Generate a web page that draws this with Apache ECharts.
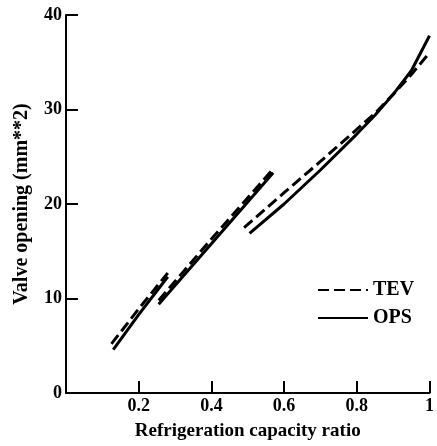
<!DOCTYPE html>
<html>
<head>
<meta charset="utf-8">
<script src="https://cdn.jsdelivr.net/npm/echarts@6/dist/echarts.min.js"></script>
<style>
  html, body { margin: 0; padding: 0; background: #fff; }
  #chart { width: 437px; height: 446px; }
</style>
</head>
<body>
<div id="chart"></div>
<script>
// TEV (dashed) segments, [capacity ratio, valve opening]
const tevLow = [[0.125, 5.2], [0.2, 8.9], [0.28, 12.7]];
const tevMid = [[0.255, 9.8], [0.4, 16.3], [0.565, 23.5]];
const tevHigh = [[0.49, 17.5], [0.6, 21.2], [0.7, 24.5], [0.8, 27.9], [0.85, 29.6], [0.9, 31.6], [0.95, 33.7], [1.0, 36.0]];
// OPS (solid) segments
const opsLow = [[0.13, 4.6], [0.2, 8.3], [0.28, 12.3]];
const opsMid = [[0.255, 9.4], [0.4, 15.8], [0.57, 23.3]];
const opsHigh = [[0.505, 16.9], [0.6, 20.0], [0.7, 23.6], [0.8, 27.4], [0.85, 29.4], [0.9, 31.6], [0.95, 34.1], [1.0, 37.8]];

const xTicks = [0, 0.2, 0.4, 0.6, 0.8, 1];
const yTicks = [0, 10, 20, 30, 40];

const font = 'Liberation Serif';
const ink = '#000';

function seg(name, data, dashed) {
  return {
    name: name,
    type: 'line',
    data: data,
    symbol: 'none',
    smooth: false,
    silent: true,
    lineStyle: { color: ink, width: 3, type: dashed ? [11, 5] : 'solid' },
    itemStyle: { color: ink }
  };
}

const chart = echarts.init(document.getElementById('chart'));
chart.setOption({
  animation: false,
  backgroundColor: '#fff',
  grid: { left: 66, right: 1, top: 15, bottom: 53 },
  legend: {
    orient: 'vertical',
    left: 312,
    top: 275,
    itemWidth: 50,
    itemHeight: 14,
    itemGap: 8,
    itemStyle: { opacity: 0 },
    data: ['TEV', 'OPS'],
    textStyle: { fontFamily: font, fontWeight: 'bold', fontSize: 20, color: ink }
  },
  xAxis: {
    type: 'value',
    min: xTicks[0],
    max: xTicks[xTicks.length - 1],
    interval: 0.2,
    name: 'Refrigeration capacity ratio',
    nameLocation: 'middle',
    nameGap: 29,
    nameTextStyle: { fontFamily: font, fontWeight: 'bold', fontSize: 19, color: ink },
    axisLine: { lineStyle: { color: ink, width: 2 } },
    axisTick: { inside: true, length: 12, lineStyle: { color: ink, width: 2 } },
    axisLabel: {
      fontFamily: font, fontWeight: 'bold', fontSize: 18, color: ink, margin: 4,
      formatter: v => (v === 0 ? '' : String(v))
    },
    splitLine: { show: false }
  },
  yAxis: {
    type: 'value',
    min: yTicks[0],
    max: yTicks[yTicks.length - 1],
    interval: 10,
    name: 'Valve opening (mm**2)',
    nameLocation: 'middle',
    nameGap: 34,
    nameTextStyle: { fontFamily: font, fontWeight: 'bold', fontSize: 20, color: ink },
    axisLine: { show: true, lineStyle: { color: ink, width: 2 } },
    axisTick: { show: true, inside: true, length: 12, lineStyle: { color: ink, width: 2 } },
    axisLabel: { fontFamily: font, fontWeight: 'bold', fontSize: 18, color: ink, margin: 4 },
    splitLine: { show: false }
  },
  series: [
    seg('TEV', tevLow, true),
    seg('TEV', tevMid, true),
    seg('TEV', tevHigh, true),
    seg('OPS', opsLow, false),
    seg('OPS', opsMid, false),
    seg('OPS', opsHigh, false)
  ]
});
</script>
</body>
</html>
